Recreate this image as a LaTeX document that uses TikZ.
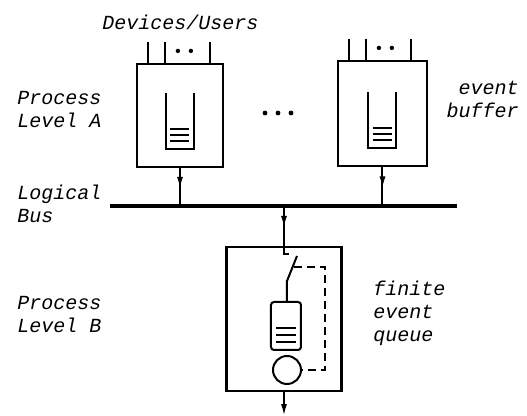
\documentclass[tikz,border=0pt]{standalone}
\usepackage{fontspec}
\setmonofont{Liberation Mono}
\usetikzlibrary{arrows.meta,positioning,calc,decorations.markings}

\begin{document}
\begin{tikzpicture}[x=0.5pt,y=-0.5pt,
    procbox/.style={draw,line width=1.1pt,inner sep=0pt},
    wire/.style={line width=1pt},
    midarrow/.style={wire,decoration={markings,mark=at position 0.55 with {\arrow{Latex[length=6pt,width=3pt]}}},postaction={decorate}},
    lbltext/.style={font=\fontsize{10}{11.5}\selectfont\ttfamily\itshape,inner sep=0pt,align=left}]
    \useasboundingbox (0,0) rectangle (527,416);
    % process level A
    \node[procbox,minimum width=43pt,minimum height=51.5pt] (pa1) at (180,115.5) {};
    \node[procbox,minimum width=44.5pt,minimum height=52.5pt] (pa2) at (382.5,113.5) {};
    \foreach \b in {pa1,pa2}{
      \foreach \dx in {12,29,74}
        \draw[wire] ($(\b.north west)+(\dx,0)$) -- ++(0,-21);
      \foreach \dx in {42,55}
        \fill ($(\b.north west)+(\dx,-12)$) circle (1.1pt);
      % event buffer
      \draw[wire] ($(\b.south)+(-14,-75)$) -- ($(\b.south)+(-14,-19)$) -- ($(\b.south)+(14,-19)$) -- ($(\b.south)+(14,-75)$);
      \foreach \dy in {27,33,39}
        \draw[wire] ($(\b.south)+(-9.5,-\dy)$) -- ++(19,0);
    }
    \foreach \x in {265,278,291}
      \fill (\x,113) circle (1.2pt);
    % logical bus
    \coordinate (busL) at (110,206);
    \coordinate (busR) at (457,206);
    \draw[line width=1.8pt] (busL) -- (busR);
    \draw[midarrow] (pa1.south) -- (pa1.south |- busL);
    \draw[midarrow] (pa2.south) -- (pa2.south |- busL);
    % process level B
    \node[procbox,minimum width=57.5pt,minimum height=72pt] (pb) at (284,319) {};
    \draw[midarrow] (pb.north |- busL) -- (pb.north);
    \node[draw,wire,rounded corners=1.5pt,minimum width=15pt,minimum height=24pt,inner sep=0pt] (qb) at (286,326) {};
    \foreach \dy in {2,9,16}
      \draw[wire] ($(qb.center)+(-10,\dy)$) -- ++(20,0);
    \node[draw,wire,circle,minimum size=14pt,inner sep=0pt] (srv) at (287,370) {};
    \coordinate (swa) at (297,256);
    \coordinate (swb) at (287,281);
    \coordinate (swd) at (294,267);
    \draw[wire] (pb.north) -- ++(0,8) -- ++(5,0);
    \draw[wire] (swa) -- (swb) -- (swb |- qb.north);
    \draw[wire,dash pattern=on 4pt off 2.5pt] (swd) -- ++(31,0) |- (srv.east);
    \draw[wire,-{Latex[length=6pt,width=3pt]}] (pb.south) -- ++(0,24);
    % labels
    \node[lbltext,anchor=base west] (devices) at (102,30) {Devices/Users};
    \node[lbltext,anchor=base west] (levA) at (17,128) {Process\\Level A};
    \node[lbltext,align=right,anchor=base east] (evbuf) at (519,118) {event\\buffer};
    \node[lbltext,anchor=base west] (busname) at (17,223) {Logical\\Bus};
    \node[lbltext,anchor=base west] (levB) at (17,333) {Process\\Level B};
    \node[lbltext,anchor=base west] (fq) at (373,342) {finite\\event\\queue};
\end{tikzpicture}
\end{document}
